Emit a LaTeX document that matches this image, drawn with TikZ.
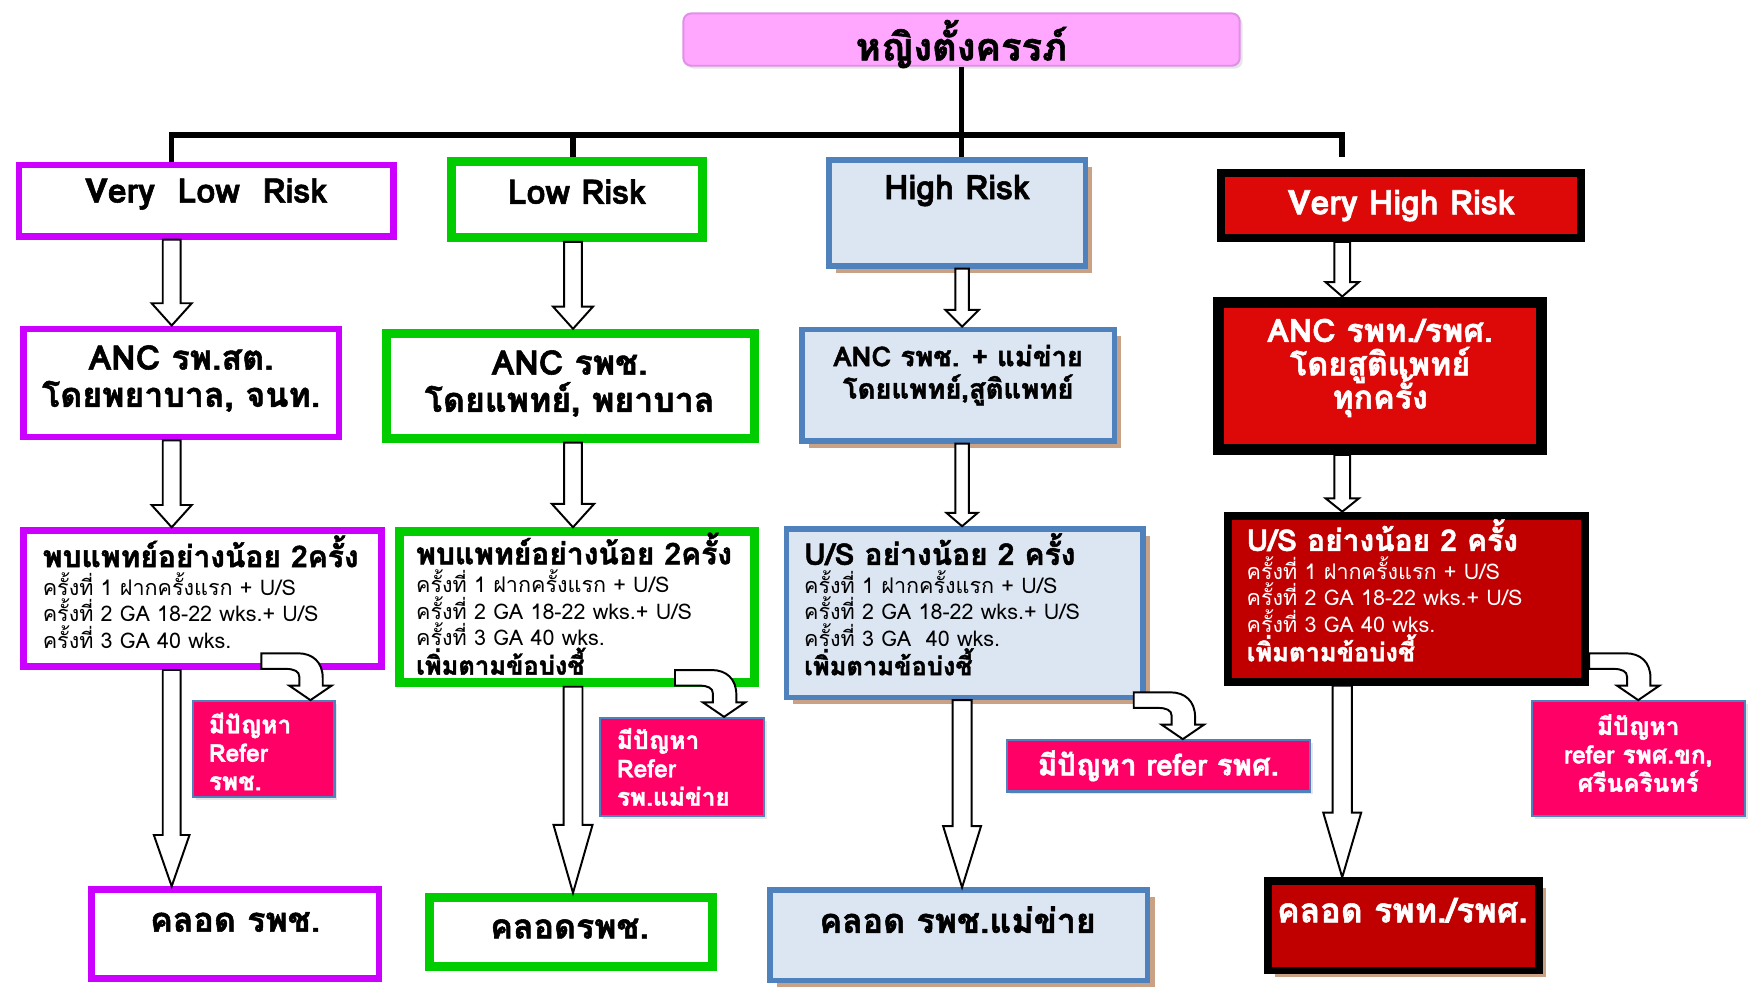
\documentclass[tikz,border=0pt]{standalone}
\usepackage{fontspec}
\setmainfont[Script=Thai, BoldFeatures={FakeBold=1.6}]{Loma}
\usetikzlibrary{calc, positioning, shadows}
\definecolor{vlow}{HTML}{CC00FF}
\definecolor{low}{HTML}{00CC00}
\definecolor{hiline}{HTML}{4F81BD}
\definecolor{hifill}{HTML}{DCE6F2}
\definecolor{hishadow}{HTML}{C9A285}
\definecolor{vhred}{HTML}{DD0808}
\definecolor{vhdark}{HTML}{C00000}
\definecolor{referpink}{HTML}{FF0066}
\definecolor{titlepink}{HTML}{FFA6FF}
\definecolor{titleline}{HTML}{E08FE6}
\newcommand{\ftitle}{\fontsize{19.5}{22}\selectfont\bfseries}
\newcommand{\fhead}{\fontsize{17.3}{19}\selectfont\bfseries}
\newcommand{\ftight}{\fontsize{16.5}{17}\selectfont\bfseries\lineskiplimit=-20pt\relax}
\newcommand{\fbody}{\fontsize{11}{13.5}\selectfont}
\newcommand{\fbold}{\fontsize{15.3}{16}\selectfont\bfseries}
\newcommand{\fmore}{\fontsize{13}{13.5}\selectfont\bfseries}
\newcommand{\fref}{\fontsize{12.5}{14.5}\selectfont\bfseries}
% hollow block arrow pointing down: start, tip, shaft half, head half, head length
\newcommand{\hollowarrow}[5]{%
  \draw[hollow] ($(#1)+(-#3,0)$) -- ($(#2)+(-#3,-#5)$) -- ($(#2)+(-#4,-#5)$) -- (#2)
    -- ($(#2)+(#4,-#5)$) -- ($(#2)+(#3,-#5)$) -- ($(#1)+(#3,0)$) -- cycle;}
% hook arrow turning down onto a refer box: target node, x offset of tip
\newcommand{\hookarrow}[2]{%
  \draw[hollow] ($(#1.north)+(#2-44,-42)$) -- ($(#1.north)+(#2-11,-42)$)
    .. controls ($(#1.north)+(#2+2,-42)$) and ($(#1.north)+(#2+11,-34)$) .. ($(#1.north)+(#2+11,-20)$)
    -- ($(#1.north)+(#2+11,-13)$) -- ($(#1.north)+(#2+19,-13)$) -- ($(#1.north)+(#2,0)$)
    -- ($(#1.north)+(#2-19,-13)$) -- ($(#1.north)+(#2-10,-13)$) -- ($(#1.north)+(#2-10,-21)$)
    .. controls ($(#1.north)+(#2-10,-26)$) and ($(#1.north)+(#2-15,-28)$) .. ($(#1.north)+(#2-22,-28)$)
    -- ($(#1.north)+(#2-44,-28)$) -- cycle;}
\tikzset{wh/.style 2 args = {minimum width=#1*0.02cm, minimum height=#2*0.02cm}}
\tikzset{box/.style = {draw, rectangle, inner sep=0pt, drop shadow={opacity=0.2, shadow xshift=1.5pt, shadow yshift=-1.5pt}}}
\tikzset{box-title/.style = {box, draw=titleline, fill=titlepink, line width=1pt, rounded corners=4pt}}
\tikzset{box-vl/.style = {box, draw=vlow, fill=white, line width=3.4pt}}
\tikzset{box-l/.style = {box, draw=low, fill=white, line width=4.6pt}}
\tikzset{box-h/.style = {draw=hiline, fill=hifill, line width=2.8pt, inner sep=0pt, drop shadow={fill=hishadow, opacity=1, shadow xshift=3.5pt, shadow yshift=-3.5pt}}}
\tikzset{box-vh/.style = {box, draw=black, fill=vhred, line width=4pt, text=white}}
\tikzset{box-ref/.style = {box, draw=hiline, fill=referpink, line width=1.1pt, text=white}}
\tikzset{usline/.style = {anchor=west, align=left, font=\fbody, inner sep=0pt}}
\tikzset{tree/.style = {line width=2.8pt}}
\tikzset{hollow/.style = {draw, fill=white, line width=1pt}}
\begin{document}
\begin{tikzpicture}[x=0.02cm, y=-0.02cm]
  \useasboundingbox (0,0) rectangle (1568,885);
  \coordinate (c1) at (154,0);
  \coordinate (c2) at (514,0);
  \coordinate (c3) at (863,0);
  \coordinate (c4) at (1204,0);
  \coordinate (bus) at (0,121);

  \node[box-title, wh={499}{47}] (top) at (862.5,35.5) {};
  \node[font=\ftitle] (topt) at ($(top)+(0,4)$) {หญิงตั้งครรภ์};

  % risk level
  \node[box-vl, wh={336}{64}] (vlr) at (185,180) {};
  \node[box-l, wh={225}{68}] (lr) at (517.5,179) {};
  \node[box-h, wh={230}{95}] (hr) at (858.5,191) {};
  \node[box-vh, wh={323}{58}, font=\fhead] (vhr) at (1257,184.5) {Very High Risk};
  \node[font=\fhead] (vlrt) at ($(vlr)+(0,-6)$) {Very~ Low~ Risk};
  \node[font=\fhead] (lrt) at ($(lr)+(0,-7)$) {Low Risk};
  \node[font=\fhead] (hrt) at ($(hr)+(0,-20)$) {High Risk};

  % ANC
  \node[box-vl, wh={283}{97}] (vlanc) at (162.5,343.5) {};
  \node[box-l, wh={330}{94}] (lanc) at (512,346) {};
  \node[box-h, wh={280}{100}] (hanc) at (859.5,345.5) {};
  \node[box-vh, line width=5.7pt, wh={290}{132}] (vhanc) at (1238,337) {};
  \node[align=center, font=\fhead] (vlanct) at ($(vlanc)+(0,-4)$) {ANC รพ.สต.\\โดยพยาบาล, จนท.};
  \node[align=center, font=\fhead] (lanct) at ($(lanc)+(-1,-2)$) {ANC รพช.\\โดยแพทย์, พยาบาล};
  \node[align=center, font=\fontsize{14}{16.5}\selectfont\bfseries] (hanct) at ($(hanc)+(0,-9)$) {ANC รพช. + แม่ข่าย\\โดยแพทย์,สูติแพทย์};
  \node[align=center, font=\ftight, text=white] (vhanct) at ($(vhanc)+(0,-7)$) {ANC รพท./รพศ.\\โดยสูติแพทย์\\ทุกครั้ง};

  % U/S
  \node[box-vl, wh={321}{122}] (vlus) at (181.5,537) {};
  \node[box-l, wh={319}{135}] (lus) at (517.5,544.5) {};
  \node[box-h, wh={320}{151}] (hus) at (865.5,550) {};
  \node[box-vh, fill=vhdark, wh={320}{149}] (vhus) at (1261.5,537) {};
  \node[usline] (vlust) at ($(vlus.west)+(20,-6)$)
    {{\fbold พบแพทย์อย่างน้อย 2ครั้ง}\\[1pt]ครั้งที่ 1 ฝากครั้งแรก + U/S\\ครั้งที่ 2 GA 18-22 wks.+ U/S\\ครั้งที่ 3 GA 40 wks.};
  \node[usline] (lust) at ($(lus.west)+(19,-3)$)
    {{\fbold พบแพทย์อย่างน้อย 2ครั้ง}\\[1pt]ครั้งที่ 1 ฝากครั้งแรก + U/S\\ครั้งที่ 2 GA 18-22 wks.+ U/S\\ครั้งที่ 3 GA 40 wks.\\{\fmore เพิ่มตามข้อบ่งชี้}};
  \node[usline] (hust) at ($(hus.west)+(18,-8)$)
    {{\fbold U/S อย่างน้อย 2 ครั้ง}\\[1pt]ครั้งที่ 1 ฝากครั้งแรก + U/S\\ครั้งที่ 2 GA 18-22 wks.+ U/S\\ครั้งที่ 3 GA~ 40 wks.\\{\fmore เพิ่มตามข้อบ่งชี้}};
  \node[usline, text=white] (vhust) at ($(vhus.west)+(20,-7.5)$)
    {{\fbold U/S อย่างน้อย 2 ครั้ง}\\[1pt]ครั้งที่ 1 ฝากครั้งแรก + U/S\\ครั้งที่ 2 GA 18-22 wks.+ U/S\\ครั้งที่ 3 GA 40 wks.\\{\fmore เพิ่มตามข้อบ่งชี้}};

  % refer
  \node[box-ref, wh={127}{86}] (vlref) at (236.5,672) {};
  \node[box-ref, wh={147}{88}] (lref) at (611.5,688) {};
  \node[box-ref, wh={272}{46}, font=\fontsize{15}{17}\selectfont\bfseries] (href) at (1039,687) {มีปัญหา refer รพศ.};
  \node[box-ref, wh={191}{103}] (vhref) at (1469.5,680.5) {};
  \node[align=center, font=\fref, text=white] (vhreft) at ($(vhref)+(0,-5)$) {มีปัญหา\\refer รพศ.ขก,\\ศรีนครินทร์};
  \node[anchor=west, align=left, font=\fref, text=white, inner sep=0pt] (vlreft) at ($(vlref.west)+(15,2)$) {มีปัญหา\\Refer\\รพช.};
  \node[anchor=west, align=left, font=\fref, text=white, inner sep=0pt] (lreft) at ($(lref.west)+(16,0)$) {มีปัญหา\\Refer\\รพ.แม่ข่าย};

  % delivery
  \node[box-vl, wh={258}{80}] (vldel) at (211,838) {};
  \node[box-l, wh={254}{62}] (ldel) at (512,836) {};
  \node[box-h, wh={339}{81}] (hdel) at (860,839) {};
  \node[box-vh, fill=vhdark, wh={243}{80}, drop shadow={fill=hishadow, opacity=1, shadow xshift=3.5pt, shadow yshift=-3.5pt}] (vhdel) at (1259,830.5) {};
  \node[font=\fhead] (vldelt) at ($(vldel)+(0,-11)$) {คลอด รพช.};
  \node[font=\fhead] (ldelt) at ($(ldel)+(-1,-3)$) {คลอดรพช.};
  \node[font=\fhead] (hdelt) at ($(hdel)+(-1,-14)$) {คลอด รพช.แม่ข่าย};
  \node[font=\fhead, text=white] (vhdelt) at ($(vhdel)+(-1,-14)$) {คลอด รพท./รพศ.};

  % tree
  \draw[tree] (top.south) -- (top.south |- hr.north);
  \draw[tree] (vlr.north -| c1) -- (bus -| c1) -- (bus -| c4) -- ($(vhr.north -| c4)+(0,-11)$);
  \draw[tree] (bus -| c2) -- (lr.north -| c2);

  % arrows
  \hollowarrow{vlr.south -| c1}{vlanc.north -| c1}{8}{18}{20}
  \hollowarrow{lr.south -| c2}{lanc.north -| c2}{8}{18}{20}
  \hollowarrow{hr.south -| c3}{hanc.north -| c3}{6}{15}{15}
  \hollowarrow{vhr.south -| c4}{vhanc.north -| c4}{7}{15}{13}
  \hollowarrow{vlanc.south -| c1}{vlus.north -| c1}{8}{18}{20}
  \hollowarrow{lanc.south -| c2}{lus.north -| c2}{8}{19}{21}
  \hollowarrow{hanc.south -| c3}{hus.north -| c3}{6}{14}{12}
  \hollowarrow{vhanc.south -| c4}{vhus.north -| c4}{7}{15}{12}
  \hollowarrow{vlus.south -| c1}{vldel.north -| c1}{8}{16}{46}
  \hollowarrow{lus.south -| c2}{ldel.north -| c2}{8.5}{17.5}{61}
  \hollowarrow{hus.south -| c3}{hdel.north -| c3}{8.5}{17}{55}
  \hollowarrow{vhus.south -| c4}{vhdel.north -| c4}{8.7}{17}{58}
  \hookarrow{vlref}{42}
  \hookarrow{lref}{38}
  \hookarrow{href}{22}
  \hookarrow{vhref}{0}
\end{tikzpicture}
\end{document}
